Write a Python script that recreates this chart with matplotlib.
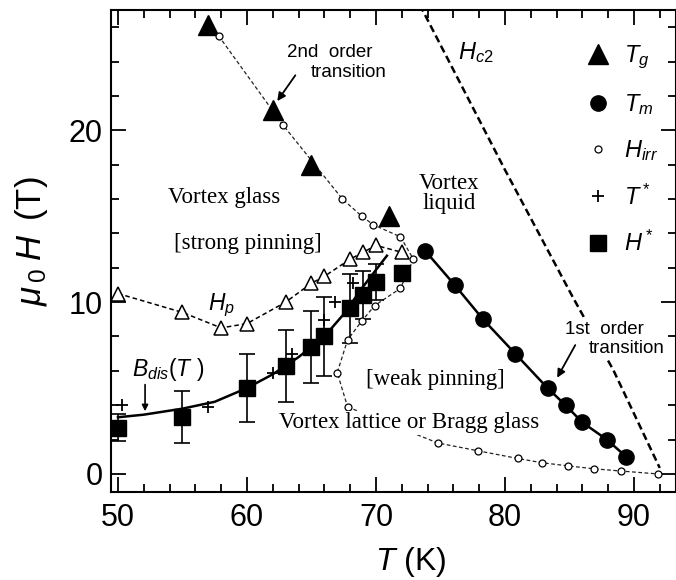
import matplotlib
matplotlib.use("Agg")
import matplotlib.pyplot as plt

plt.rcParams['font.family'] = ['Liberation Sans', 'DejaVu Sans']
plt.rcParams['mathtext.fontset'] = 'custom'
plt.rcParams['mathtext.rm'] = 'Liberation Sans'
plt.rcParams['mathtext.it'] = 'Liberation Sans:italic'
plt.rcParams['mathtext.bf'] = 'Liberation Sans:bold'
plt.rcParams['mathtext.sf'] = 'Liberation Sans'

# glass transition T_g (filled triangles)
tg_T = [57, 62, 65, 71]
tg_H = [26.1, 21.2, 18.0, 15.0]

# melting line T_m (filled circles, solid line)
tm_T = [73.8, 76.1, 78.3, 80.8, 83.3, 84.7, 86.0, 87.9, 89.4]
tm_H = [13.0, 11.0, 9.0, 7.0, 5.0, 4.0, 3.0, 2.0, 1.0]

# irreversibility line H_irr (small open circles)
hirr_T = [57.8, 62.8, 67.4, 68.9, 69.8, 71.9, 72.9, 71.9, 69.9, 68.9, 67.8, 67.0, 67.8,
          74.8, 77.9, 81.0, 82.9, 84.9, 86.9, 89.0, 91.9]
hirr_H = [25.5, 20.3, 16.0, 15.0, 14.5, 13.8, 12.5, 10.8, 9.8, 8.9, 7.8, 5.9, 3.9,
          1.8, 1.35, 0.9, 0.65, 0.47, 0.3, 0.17, 0.0]

# peak effect H_p (open triangles)
hp_T = [50, 55, 58, 60, 63, 65, 66, 68, 69, 70, 72]
hp_H = [10.5, 9.4, 8.5, 8.75, 10.0, 11.1, 11.5, 12.5, 12.9, 13.3, 12.9]

# T* (plus signs)
ts_T = [50.3, 57.0, 62.0, 63.5, 66.0, 66.8, 68.2]
ts_H = [4.0, 3.9, 5.9, 7.0, 8.95, 10.0, 11.1]

# H* (filled squares with error bars)
hs_T = [50, 55, 60, 63, 65, 66, 68, 69, 70, 72]
hs_H = [2.7, 3.3, 5.0, 6.3, 7.4, 8.0, 9.65, 10.4, 11.15, 11.7]
hs_err = [0.8, 1.5, 2.0, 2.1, 2.1, 2.3, 2.0, 1.4, 1.05, 0.0]

# disorder line B_dis(T)
bdis_T = [50, 52, 55, 57.5, 60, 62, 64, 66, 67.5, 69, 70.85]
bdis_H = [3.3, 3.45, 3.8, 4.2, 5.0, 5.8, 6.8, 8.0, 9.3, 10.9, 12.7]

# upper critical field H_c2
hc2_T = [73.4, 80, 85.25, 88.4, 92.0]
hc2_H = [27.3, 17.7, 10.3, 6.05, 0.35]

fig = plt.figure(figsize=(6.76, 5.8), dpi=100)
ax = fig.add_axes([111 / 676, 88 / 580, 565 / 676, 482 / 580])

ax.plot(hc2_T, hc2_H, color='k', lw=1.8, dashes=(3, 1.6))
ax.plot(hirr_T[:13], hirr_H[:13], color='#222', lw=0.9, dashes=(3, 2))
ax.plot(hirr_T[12:], hirr_H[12:], color='#222', lw=0.9, dashes=(3, 2), zorder=1)
ax.plot(tg_T[:1] + hirr_T[:1], tg_H[:1] + hirr_H[:1], color='#222', lw=0.9, dashes=(3, 2))
ax.plot(hp_T, hp_H, color='k', lw=1.1, dashes=(3, 2))
ax.plot(tm_T, tm_H, color='k', lw=1.8)
ax.plot(bdis_T, bdis_H, color='k', lw=1.8)

ax.errorbar(hs_T, hs_H, yerr=hs_err, fmt='none', ecolor='k', elinewidth=1.2,
            capsize=5.5, capthick=1.2)

l_tg, = ax.plot(tg_T, tg_H, ls='none', marker='^', ms=14, color='k', label='$T_g$')
l_tm, = ax.plot(tm_T, tm_H, ls='none', marker='o', ms=11, color='k', label='$T_m$')
l_hirr, = ax.plot(hirr_T, hirr_H, ls='none', marker='o', ms=5, mfc='white',
                  mec='k', mew=0.9, label='$H_{irr}$')
ax.plot(hp_T, hp_H, ls='none', marker='^', ms=9.5, mfc='white', mec='k', mew=1.1)
l_ts, = ax.plot(ts_T, ts_H, ls='none', marker='+', ms=9, mew=1.3, color='k', label='$T^*$')
l_hs, = ax.plot(hs_T, hs_H, ls='none', marker='s', ms=11, color='k', label='$H^*$')

ax.legend(handles=[l_tg, l_tm, l_hirr, l_ts, l_hs], loc='upper right',
          bbox_to_anchor=(0.985, 0.95), frameon=False, fontsize=17,
          handlelength=1.0, handletextpad=0.6, labelspacing=0.9, borderaxespad=0)

# region labels
serif = 'Liberation Serif'
ax.text(58.2, 16.1, 'Vortex glass', family=serif, fontsize=16.5, ha='center', va='center')
ax.text(60.1, 13.4, '[strong pinning]', family=serif, fontsize=16.5, ha='center', va='center')
ax.text(75.66, 16.3, 'Vortex\nliquid', family=serif, fontsize=16.5, ha='center', va='center',
        linespacing=0.95)
ax.text(74.57, 5.52, '[weak pinning]', family=serif, fontsize=16.5, ha='center', va='center')
ax.text(72.56, 2.97, 'Vortex lattice or Bragg glass', family=serif, fontsize=16.5,
        ha='center', va='center',
        bbox=dict(boxstyle='square,pad=0.05', fc='white', ec='none'))

ax.text(77.75, 24.5, '$H_{c2}$', fontsize=17, ha='center', va='center')
ax.text(58.06, 9.83, '$H_p$', fontsize=16.5, ha='center', va='center')
ax.text(53.9, 6.05, '$B_{dis}(T\\ )$', fontsize=16.5, ha='center', va='center')

ax.text(66.43, 24.5, '2nd  order', fontsize=13.5, ha='center', va='center')
ax.text(67.9, 23.35, 'transition', fontsize=13.5, ha='center', va='center')
ax.annotate('', xy=(62.35, 21.7), xytext=(63.75, 23.2),
            arrowprops=dict(arrowstyle='-|>', color='k', lw=1.3, mutation_scale=12,
                            shrinkA=0, shrinkB=0))

ax.text(87.75, 8.43, '1st  order', fontsize=13.5, ha='center', va='center',
        bbox=dict(boxstyle='square,pad=0.1', fc='white', ec='none'))
ax.text(89.45, 7.33, 'transition', fontsize=13.5, ha='center', va='center',
        bbox=dict(boxstyle='square,pad=0.1', fc='white', ec='none'))
ax.annotate('', xy=(84.05, 5.6), xytext=(85.45, 7.5),
            arrowprops=dict(arrowstyle='-|>', color='k', lw=1.3, mutation_scale=12,
                            shrinkA=0, shrinkB=0))

ax.annotate('', xy=(52.1, 3.65), xytext=(52.1, 5.2),
            arrowprops=dict(arrowstyle='-|>', color='k', lw=1.2, mutation_scale=9,
                            shrinkA=0, shrinkB=0))

ax.set_xlim(49.46, 93.26)
ax.set_ylim(-1.05, 27.0)
ax.set_xticks([50, 60, 70, 80, 90])
ax.set_xticks(range(50, 94, 2), minor=True)
ax.set_yticks([0, 10, 20])
ax.set_yticks(range(0, 27, 2), minor=True)
ax.tick_params(which='both', direction='in', top=True, right=True, width=1.3)
ax.tick_params(which='major', length=11, labelsize=22)
ax.tick_params(axis='x', which='major', pad=8)
ax.tick_params(axis='y', which='major', pad=6)
ax.tick_params(which='minor', length=6)
for sp in ax.spines.values():
    sp.set_linewidth(1.5)

ax.set_xlabel('$T\\ $(K)', fontsize=23)
ax.xaxis.set_label_coords(0.531, -0.11)
ax.set_ylabel('$\\mu_{\\,0}\\;H\\ \\,$(T)', fontsize=25)
ax.yaxis.set_label_coords(-0.108, 0.521)

fig.savefig('out.png', dpi=100)
